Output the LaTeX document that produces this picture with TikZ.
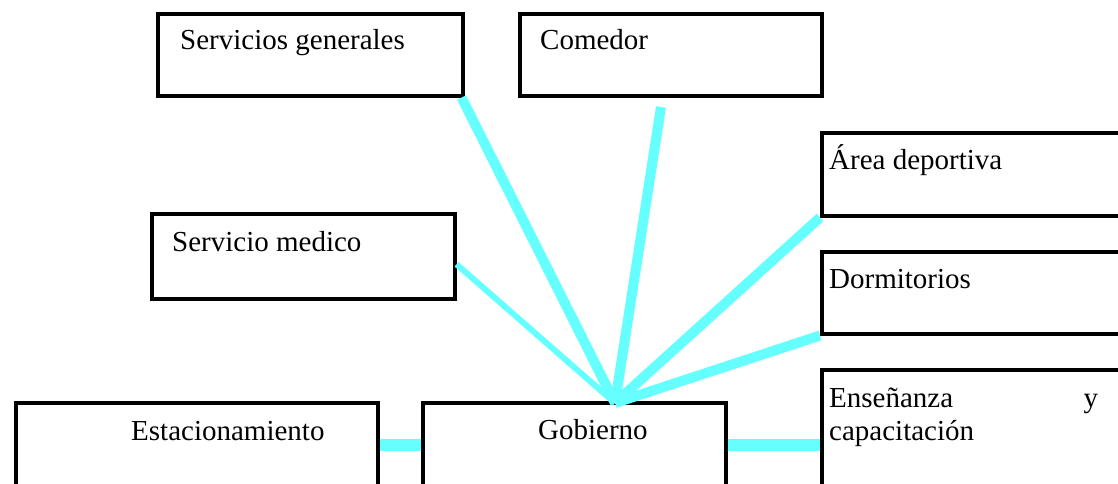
\documentclass[tikz,border=0pt]{standalone}
\usepackage{fontspec}
\setmainfont{Liberation Serif}
\definecolor{linkcyan}{RGB}{102,255,255}

\begin{document}
\begin{tikzpicture}[x=1pt,y=-1pt,
  box/.style={draw,line width=3.5pt,rectangle,anchor=north west,inner sep=0pt},
  lbl/.style={anchor=base west,inner sep=0pt,font=\fontsize{29}{33}\selectfont},
  link/.style={draw=linkcyan,line width=10pt}]
\useasboundingbox (0,0) rectangle (1118,483);
\clip (0,0) rectangle (1118,483);
% boxes
\node[box,minimum width=305pt,minimum height=82pt] (sg) at (156,12) {};
\node[box,minimum width=302pt,minimum height=82pt] (com) at (518,12) {};
\node[box,minimum width=330pt,minimum height=83pt] (area) at (820,131) {};
\node[box,minimum width=330pt,minimum height=82pt] (dorm) at (820,250) {};
\node[box,minimum width=330pt,minimum height=150pt] (ens) at (820,368) {};
\node[box,minimum width=303pt,minimum height=85pt] (med) at (150,212) {};
\node[box,minimum width=362pt,minimum height=84pt] (est) at (14,401) {};
\node[box,minimum width=303pt,minimum height=84pt] (gob) at (421,401) {};
% labels
\node[lbl] (sgtxt) at ([shift={(24,37)}]sg.north west) {Servicios generales};
\node[lbl] (comtxt) at ([shift={(22,37)}]com.north west) {Comedor};
\node[lbl] (areatxt) at ([shift={(9,38)}]area.north west) {Área deportiva};
\node[lbl] (dormtxt) at ([shift={(9,38)}]dorm.north west) {Dormitorios};
\node[lbl,text width=269pt,align=left] (enstxt) at ([shift={(9,39)}]ens.north west) {Enseñanza\hfill y\\capacitación};
\node[lbl] (medtxt) at ([shift={(22,39)}]med.north west) {Servicio medico};
\node[lbl] (esttxt) at ([shift={(117,39)}]est.north west) {Estacionamiento};
\node[lbl] (gobtxt) at ([shift={(117,38)}]gob.north west) {Gobierno};
% connectors
\coordinate (hub) at (615,403);
\coordinate (comend) at (661,107);
\draw[link] (hub) -- ([xshift=-3pt]sg.south east);
\draw[link] (hub) -- (comend);
\draw[link] (hub) -- (area.south west);
\draw[link] (hub) -- (dorm.south west);
\draw[link,line width=6pt] (hub) -- ([yshift=-8pt]med.east);
\draw[link,line width=12pt] (est.east) -- (gob.west);
\draw[link,line width=12pt] (gob.east) -- (gob.east -| ens.west);
\end{tikzpicture}
\end{document}
